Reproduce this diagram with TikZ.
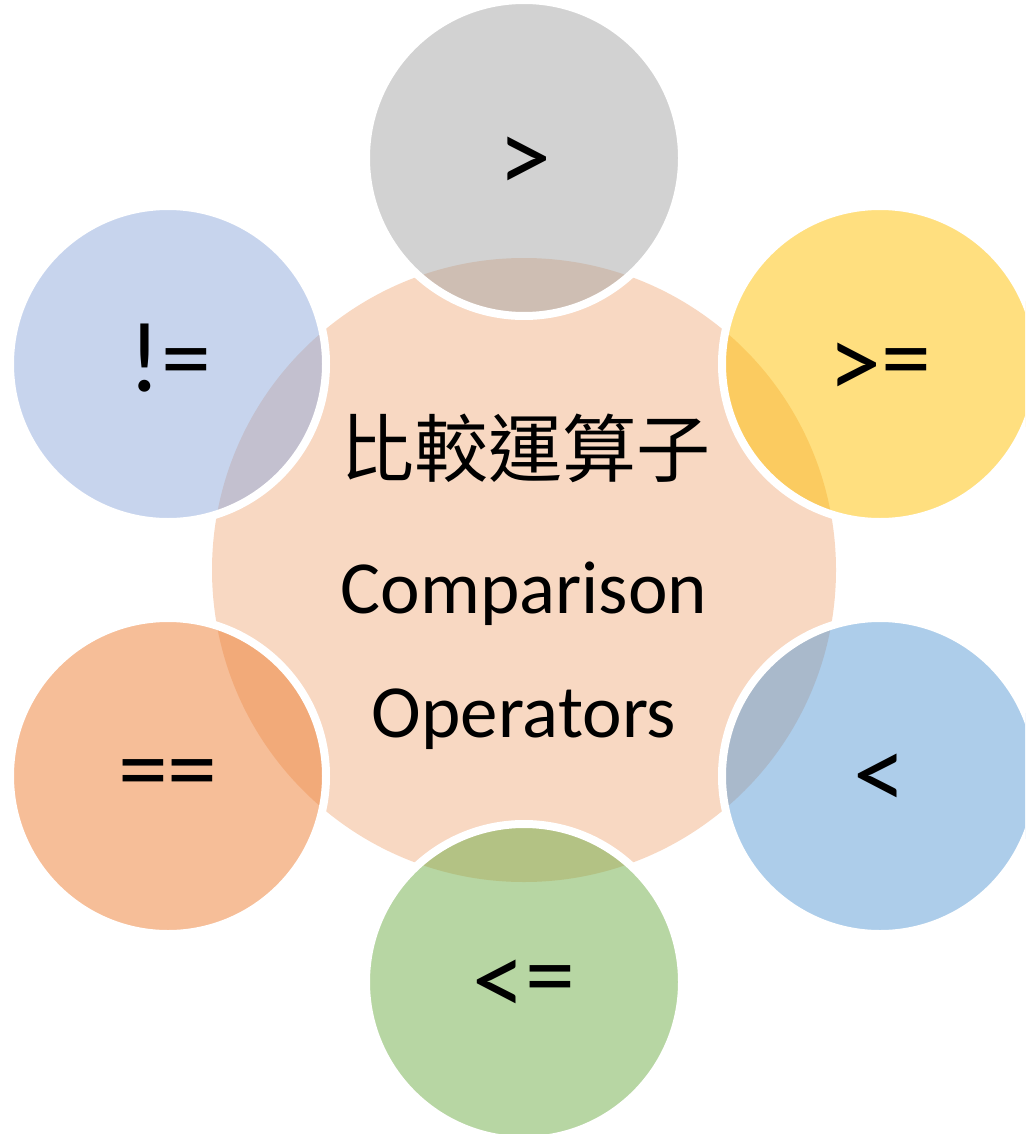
\documentclass[tikz,border=0pt]{standalone}
\usepackage{fontspec}
\setmainfont{Carlito}
\newfontfamily\cjk{Noto Sans CJK TC}
\definecolor{peach}{HTML}{F8D8C2}
\definecolor{cgray}{HTML}{A5A5A5}
\definecolor{cgold}{HTML}{FFC000}
\definecolor{cblue}{HTML}{5B9BD5}
\definecolor{cgreen}{HTML}{70AD47}
\definecolor{corange}{HTML}{ED7D31}
\definecolor{clblue}{HTML}{8FAADC}
\newcommand\dn[1]{\lower7pt\hbox{\scalebox{1.06}{#1}}}
\tikzset{
  hub/.style={circle, fill=peach, minimum size=624pt, inner sep=0pt},
  sat/.style={circle, fill=#1, fill opacity=0.5, draw=white, draw opacity=1, line width=8pt, minimum size=316pt, inner sep=0pt},
  sym/.style={anchor=base, inner sep=0pt, font=\fontsize{100}{120}\selectfont},
  lat/.style={anchor=base, inner sep=0pt, font=\fontsize{75}{90}\selectfont},
  han/.style={anchor=center, inner sep=0pt, font=\cjk\fontsize{74}{90}\selectfont}
}
\begin{document}
\begin{tikzpicture}[x=1pt,y=-1pt]
\useasboundingbox (0,0) rectangle (1025,1134);
\clip (0,0) rectangle (1025,1134);
\node[hub] (hub) at (524,570) {};
\node[sat=cgray]   (c1) at (524,158) {};
\node[sat=cgold]   (c2) at (880,364) {};
\node[sat=cblue]   (c3) at (880,776) {};
\node[sat=cgreen]  (c4) at (524,982) {};
\node[sat=corange] (c5) at (168,776) {};
\node[sat=clblue]  (c6) at (168,364) {};
\node[han] (t1) at (525,448) {比較運算子};
\node[lat] (t2) at (524,613) {Comparison};
\node[lat] (t3) at (524,737) {Operators};
\node[sym] (s1) at (525,185) {\dn{>}};
\node[sym] (s2) at (880,391) {\dn{>}=};
\node[sym] (s3) at (880,802) {\dn{<}};
\node[sym] (s4) at (524,1008) {\dn{<}=};
\node[sym] (s5) at (168,802) {==};
\node[sym] (s6) at (170,391) {!=};
\end{tikzpicture}
\end{document}
